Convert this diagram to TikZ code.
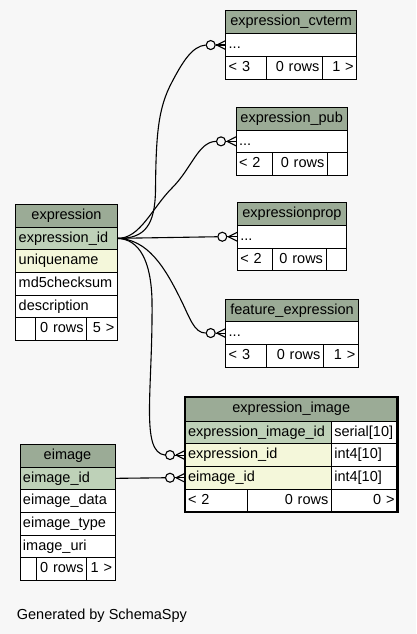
\documentclass[tikz,border=0pt]{standalone}
\usepackage{fontspec}
\setmainfont{Liberation Sans}
\usepackage{tikz}
\usetikzlibrary{positioning}

\definecolor{bgcol}{HTML}{F7F7F7}
\definecolor{hdcol}{HTML}{9BAB96}
\definecolor{pkcol}{HTML}{BED1B8}
\definecolor{ixcol}{HTML}{F4F7DA}

\begin{document}
\begin{tikzpicture}[x=1pt,y=-1pt,
  font=\fontsize{14.5}{17}\selectfont,
  cell/.style={draw, fill=white, anchor=north west, line width=1pt, outer sep=0pt,
    inner xsep=3pt, inner ysep=0pt, minimum height=22.7pt,
    text height=10.5pt, text depth=3.2pt},
  tblhead/.style={cell, fill=hdcol, minimum width=#1},
  tblcol/.style={cell, text width=#1, align=left},
  tblfoot/.style={cell, text width=#1, align=right},
  fk/.style={line width=1.1pt},
  fkend/.style={draw, circle, fill=bgcol, line width=1.1pt, inner sep=0pt, minimum size=9pt}]

\fill[bgcol] (0,0) rectangle (416,634);
\useasboundingbox (0,0) rectangle (416,634);

\node[tblhead=131pt] (cvhd) at (225.7,11) {expression\_cvterm};
\node[tblcol=125pt, below=0pt of cvhd] (cvrow) {...};
\node[tblcol=34.3pt] (cvf1) at (cvrow.south west) {< 3};
\node[tblfoot=50.3pt, right=0pt of cvf1] (cvf2) {0 rows};
\node[tblfoot=28.4pt, right=0pt of cvf2] (cvf3) {1 >};

\node[tblhead=111.3pt] (pubhd) at (236,107.3) {expression\_pub};
\node[tblcol=105.3pt, below=0pt of pubhd] (pubrow) {...};
\node[tblcol=30.7pt] (pubf1) at (pubrow.south west) {< 2};
\node[tblfoot=48.6pt, right=0pt of pubf1] (pubf2) {0 rows};
\node[tblfoot=14pt, right=0pt of pubf2] (pubf3) {};

\node[tblhead=109.4pt] (prophd) at (237.3,202.7) {expressionprop};
\node[tblcol=103.4pt, below=0pt of prophd] (proprow) {...};
\node[tblcol=29pt] (propf1) at (proprow.south west) {< 2};
\node[tblfoot=47.7pt, right=0pt of propf1] (propf2) {0 rows};
\node[tblfoot=14.7pt, right=0pt of propf2] (propf3) {};

\node[tblhead=132.6pt] (feathd) at (225.7,299) {feature\_expression};
\node[tblcol=126.6pt, below=0pt of feathd] (featrow) {...};
\node[tblcol=34.3pt] (featf1) at (featrow.south west) {< 3};
\node[tblfoot=51.3pt, right=0pt of featf1] (featf2) {0 rows};
\node[tblfoot=29pt, right=0pt of featf2] (featf3) {1 >};

\node[tblhead=101.6pt] (exprhd) at (15.7,204.3) {expression};
\node[tblcol=95.6pt, fill=pkcol, below=0pt of exprhd] (exprid) {expression\_id};
\node[tblcol=95.6pt, fill=ixcol, below=0pt of exprid] (exprname) {uniquename};
\node[tblcol=95.6pt, below=0pt of exprname] (exprmd5) {md5checksum};
\node[tblcol=95.6pt, below=0pt of exprmd5] (exprdesc) {description};
\node[tblcol=13.3pt] (exprf1) at (exprdesc.south west) {};
\node[tblfoot=45.7pt, right=0pt of exprf1] (exprf2) {0 rows};
\node[tblfoot=24.6pt, right=0pt of exprf2] (exprf3) {5 >};

\node[tblhead=212.5pt, minimum height=24pt] (eihd) at (185,397) {expression\_image};
\node[tblcol=140.3pt, fill=pkcol] (eiid) at (eihd.south west) {expression\_image\_id};
\node[tblcol=60.2pt, right=0pt of eiid] (eiidt) {serial[10]};
\node[tblcol=140.3pt, fill=ixcol] (eiexp) at (eiid.south west) {expression\_id};
\node[tblcol=60.2pt, right=0pt of eiexp] (eiexpt) {int4[10]};
\node[tblcol=140.3pt, fill=ixcol] (eiim) at (eiexp.south west) {eimage\_id};
\node[tblcol=60.2pt, right=0pt of eiim] (eiimt) {int4[10]};
\node[tblcol=56.3pt] (eif1) at (eiim.south west) {< 2};
\node[tblfoot=78pt, right=0pt of eif1] (eif2) {0 rows};
\node[tblfoot=60.2pt, right=0pt of eif2] (eif3) {0 >};
\draw[line width=2.6pt] (eihd.north west) rectangle (eif3.south east);

\node[tblhead=95pt] (eimhd) at (20,444.3) {eimage};
\node[tblcol=89pt, fill=pkcol, below=0pt of eimhd] (eimid) {eimage\_id};
\node[tblcol=89pt, below=0pt of eimid] (eimdata) {eimage\_data};
\node[tblcol=89pt, below=0pt of eimdata] (eimtype) {eimage\_type};
\node[tblcol=89pt, below=0pt of eimtype] (eimuri) {image\_uri};
\node[tblcol=10pt] (eimf1) at (eimuri.south west) {};
\node[tblfoot=44.7pt, right=0pt of eimf1] (eimf2) {0 rows};
\node[tblfoot=22.3pt, right=0pt of eimf2] (eimf3) {1 >};

\foreach \o/\r in {ocv/cvrow, opub/pubrow, oprop/proprow, ofeat/featrow, oeiexp/eiexp, oeiim/eiim} {
  \node[fkend] (\o) at ([xshift=-15pt]\r.west) {};
  \foreach \d in {-4.5,0,4.5}
    \draw[fk] ([xshift=1pt]\o.east) -- ([yshift=\d pt]\r.west);
  \draw[fk] (\o.east) -- ([xshift=1pt]\o.east);
}

\draw[fk] (exprid.east) .. controls (145,239) and (155,225) .. (155.5,190)
  .. controls (156,135) and (158,108) .. (172,82)
  .. controls (182,63) and (192,46) .. (ocv.west);
\draw[fk] (exprid.east) .. controls (140,239) and (152,208) .. (172,188)
  .. controls (192,168) and (198,142) .. (opub.west);
\draw[fk] (exprid.east) -- (oprop.west);
\draw[fk] (exprid.east) .. controls (148,239) and (165,268) .. (180,298)
  .. controls (190,318) and (194,333) .. (ofeat.west);
\draw[fk] (exprid.east) .. controls (140,239) and (151,262) .. (152,300)
  .. controls (153,390) and (140,452) .. (oeiexp.west);
\draw[fk] (eimid.east) -- (oeiim.west);

\node[anchor=west, inner sep=0pt] (gen) at (16.7,616) {Generated by SchemaSpy};

\end{tikzpicture}
\end{document}
